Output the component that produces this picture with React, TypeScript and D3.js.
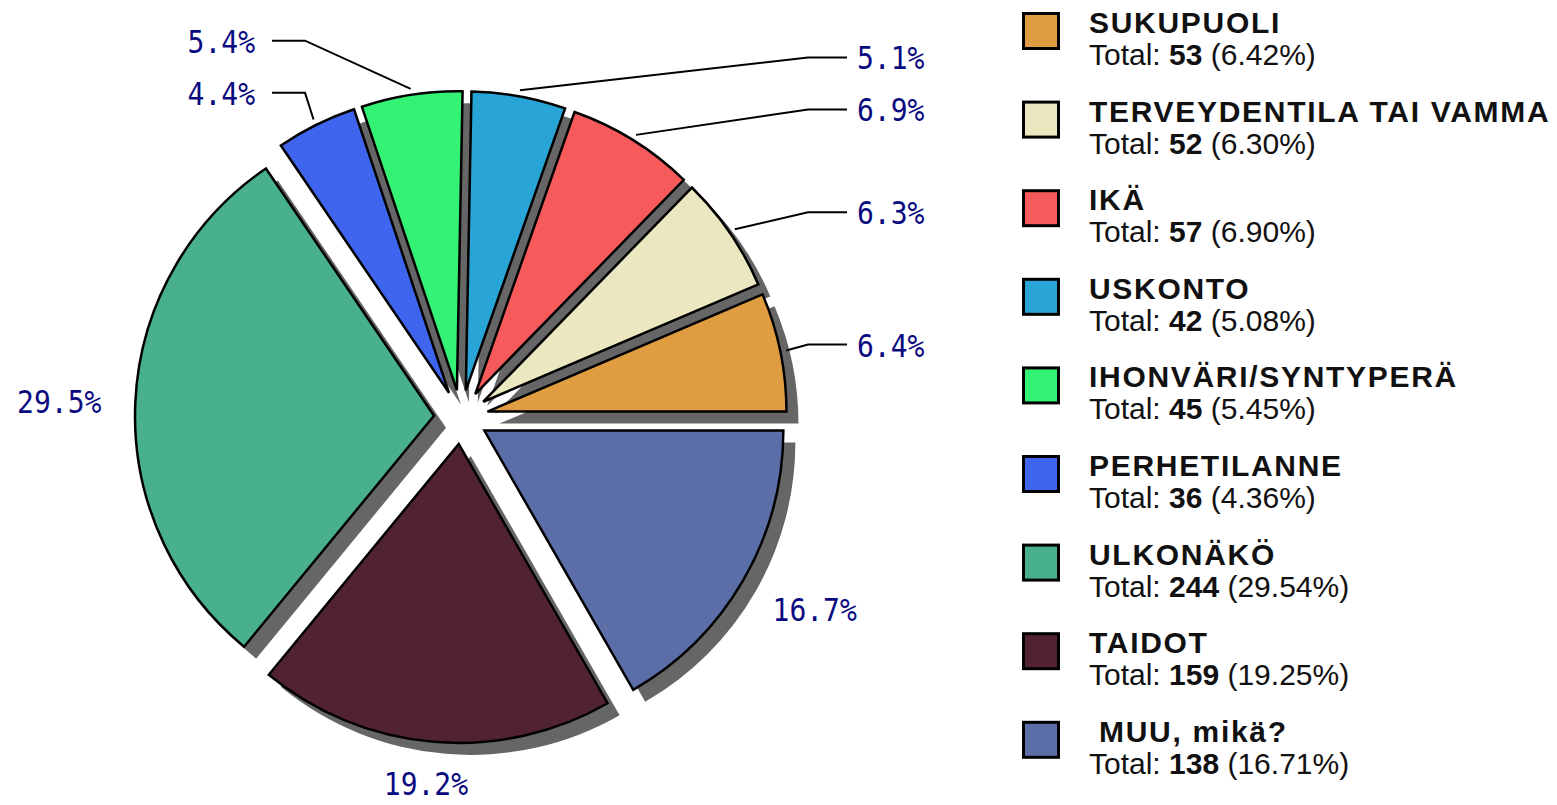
import React from "react";
import * as d3 from "d3";

const categories = [
  "SUKUPUOLI",
  "TERVEYDENTILA TAI VAMMA",
  "IKÄ",
  "USKONTO",
  "IHONVÄRI/SYNTYPERÄ",
  "PERHETILANNE",
  "ULKONÄKÖ",
  "TAIDOT",
  " MUU, mikä?",
];
const totals = [53, 52, 57, 42, 45, 36, 244, 159, 138];
const colors = [
  "#E09C41",
  "#EBE7C0",
  "#F65A5A",
  "#28A5D6",
  "#33F274",
  "#3F65EF",
  "#48B08E",
  "#51222F",
  "#5B6EA8",
];

const W = 1557;
const H = 805;
const CX = 461;
const CY = 417;
const R = 299;
const EXPLODE = 27;
const SHADOW = 12;
const LABEL_R = 360;
const LEADER_Y_R = 362;
const LEADER_MIN_GAP = 52;
const CAP_H = 24;

export default function App() {
  const sum = d3.sum(totals);
  const pie = d3
    .pie<number>()
    .sort(null)
    .startAngle(Math.PI / 2)
    .endAngle(Math.PI / 2 - 2 * Math.PI);
  const arcs = pie(totals);
  const arcGen = d3.arc<d3.PieArcDatum<number>>().innerRadius(0).outerRadius(R);

  const slices = arcs.map((a, i) => {
    const mid = (a.startAngle + a.endAngle) / 2;
    const ux = Math.sin(mid);
    const uy = -Math.cos(mid);
    const share = a.value / sum;
    return {
      i,
      a,
      mid,
      ux,
      uy,
      share,
      ox: CX + EXPLODE * ux,
      oy: CY + EXPLODE * uy,
      path: arcGen(a) as string,
      label: (share * 100).toFixed(1) + "%",
    };
  });

  // leader labels for small slices
  const small = slices.filter((s) => s.share < 0.1);
  const leaders = small.map((s) => ({
    s,
    side: s.ux >= 0 ? "right" : "left",
    y: CY + LEADER_Y_R * s.uy,
  }));
  ["right", "left"].forEach((side) => {
    const group = leaders
      .filter((l) => l.side === side)
      .sort((p, q) => q.y - p.y);
    for (let k = 1; k < group.length; k++) {
      if (group[k].y > group[k - 1].y - LEADER_MIN_GAP) {
        group[k].y = group[k - 1].y - LEADER_MIN_GAP;
      }
    }
  });

  const rightElbow = CX + 347;
  const rightEnd = CX + 386;
  const rightText = CX + 396;
  const leftElbow = CX - 156;
  const leftEnd = CX - 189;
  const leftText = CX - 206;

  const big = slices.filter((s) => s.share >= 0.1);

  const monoFont = "'DejaVu Sans Mono', 'Liberation Mono', monospace";
  const sansFont = "'Liberation Sans', Arial, sans-serif";

  const legendTop = 12;
  const legendStep = 88.6;

  return (
    <svg
      width={W}
      height={H}
      style={{ position: "absolute", left: 0, top: 0, background: "#fff" }}
    >
      <rect x={0} y={0} width={W} height={H} fill="#fff" />
      {/* shadows */}
      <g>
        {slices.map((s) => (
          <path
            key={"sh" + s.i}
            d={s.path}
            transform={`translate(${s.ox + SHADOW},${s.oy + SHADOW})`}
            fill="#666666"
          />
        ))}
      </g>
      {/* slices */}
      <g>
        {slices.map((s) => (
          <path
            key={"sl" + s.i}
            d={s.path}
            transform={`translate(${s.ox},${s.oy})`}
            fill={colors[s.i]}
            stroke="#000"
            strokeWidth={2.5}
            strokeLinejoin="miter"
          />
        ))}
      </g>
      {/* leader labels */}
      <g>
        {leaders.map((l) => {
          const sx = CX + (R + EXPLODE + 6) * l.s.ux;
          const sy = CY + (R + EXPLODE + 6) * l.s.uy;
          const right = l.side === "right";
          const ex = right ? rightElbow : leftElbow;
          const endX = right ? rightEnd : leftEnd;
          const pts = `${sx},${sy} ${ex},${l.y} ${endX},${l.y}`;
          return (
            <g key={"ld" + l.s.i}>
              <polyline points={pts} fill="none" stroke="#000" strokeWidth={2} />
              <text
                transform={`translate(${right ? rightText : leftText},${l.y + CAP_H / 2}) scale(1,1.17)`}
                fontFamily={monoFont}
                fontSize={28}
                fill="#0A0A80"
                textAnchor={right ? "start" : "end"}
              >
                {l.s.label}
              </text>
            </g>
          );
        })}
      </g>
      {/* direct labels */}
      <g>
        {big.map((s) => {
          const px = CX + LABEL_R * s.ux;
          const py = CY + LABEL_R * s.uy;
          const anchor = s.ux > 0.3 ? "start" : s.ux < -0.3 ? "end" : "middle";
          let base = py + CAP_H / 2;
          if (s.uy > 0.3) base = py + CAP_H;
          else if (s.uy < -0.3) base = py;
          base = Math.min(base, H - 10);
          return (
            <text
              key={"bl" + s.i}
              transform={`translate(${px - (anchor === "middle" ? 5 : 0)},${base}) scale(1,1.17)`}
              fontFamily={monoFont}
              fontSize={28}
              fill="#0A0A80"
              textAnchor={anchor}
            >
              {s.label}
            </text>
          );
        })}
      </g>
      {/* legend */}
      <g>
        {categories.map((c, i) => {
          const y0 = legendTop + legendStep * i;
          const pct = ((totals[i] / sum) * 100).toFixed(2);
          return (
            <g key={"lg" + i}>
              <rect
                x={1023.5}
                y={y0 + 1.5}
                width={35}
                height={35}
                fill={colors[i]}
                stroke="#000"
                strokeWidth={3}
              />
              <text
                x={1089}
                y={y0 + 21}
                fontFamily={sansFont}
                fontWeight="bold"
                fontSize={30}
                letterSpacing={1.7}
                fill="#111"
                style={{ whiteSpace: "pre" }}
              >
                {c}
              </text>
              <text
                x={1089}
                y={y0 + 53}
                fontFamily={sansFont}
                fontSize={30}
                fill="#111"
                style={{ whiteSpace: "pre" }}
              >
                {"Total: "}
                <tspan fontWeight="bold">{totals[i]}</tspan>
                {` (${pct}%)`}
              </text>
            </g>
          );
        })}
      </g>
    </svg>
  );
}
